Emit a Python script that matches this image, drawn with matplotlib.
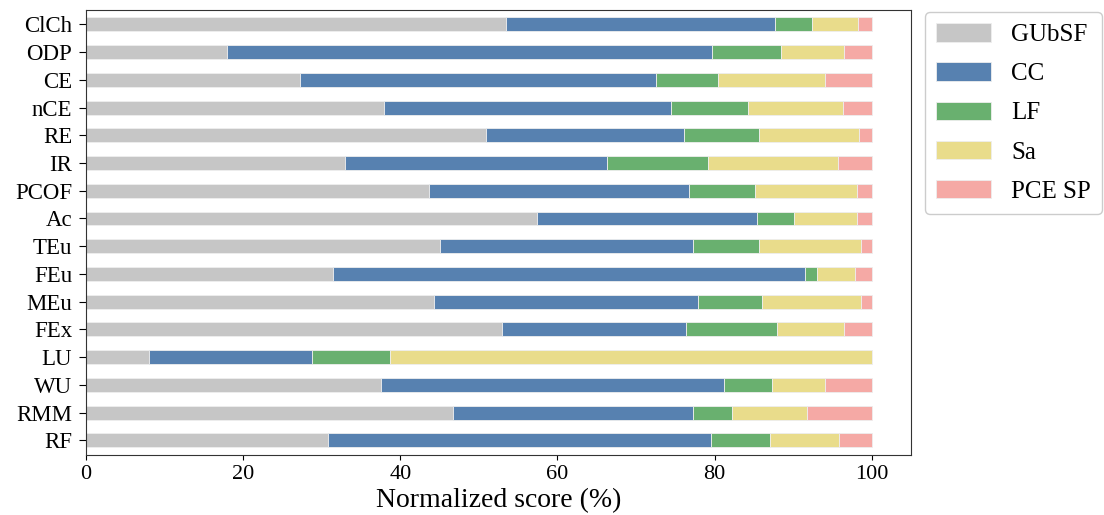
import matplotlib

matplotlib.use("Agg")
import matplotlib.pyplot as plt
import numpy as np

plt.rcParams["font.family"] = ["Liberation Serif", "DejaVu Serif"]

CATEGORIES = ["ClCh", "ODP", "CE", "nCE", "RE", "IR", "PCOF", "Ac",
              "TEu", "FEu", "MEu", "FEx", "LU", "WU", "RMM", "RF"]
SERIES = ["GUbSF", "CC", "LF", "Sa", "PCE SP"]

# Segment widths (% of total).
GUBSF = [53.4, 17.9, 27.2, 37.9, 50.9, 33.0, 43.6, 57.4,
         45.0, 31.4, 44.3, 53.0, 8.0, 37.6, 46.7, 30.8]
CC = [34.3, 61.8, 45.4, 36.6, 25.2, 33.3, 33.1, 28.0,
      32.3, 60.1, 33.6, 23.4, 20.8, 43.6, 30.6, 48.7]
LF = [4.7, 8.7, 7.8, 9.8, 9.5, 12.8, 8.4, 4.7,
      8.3, 1.5, 8.1, 11.5, 9.9, 6.1, 4.9, 7.5]
SA = [5.9, 8.1, 13.6, 12.0, 12.8, 16.6, 13.0, 8.0,
      13.0, 4.9, 12.6, 8.6, 61.3, 6.8, 9.6, 8.8]
PCE_SP = [1.7, 3.5, 6.0, 3.7, 1.6, 4.3, 1.9, 1.9,
          1.4, 2.1, 1.4, 3.5, 0.0, 5.9, 8.2, 4.2]

COLORS = ["#c6c6c6", "#5781b0", "#69b06f", "#e9dc8b", "#f5a9a5"]


def main() -> None:
    fig = plt.figure(figsize=(11.04, 5.15), dpi=100)
    ax = fig.add_axes([86 / 1104, 60 / 515, 825 / 1104, 445 / 515])
    y = np.arange(len(CATEGORIES))
    left = np.zeros(len(CATEGORIES))
    for name, values, color in zip(SERIES, [GUBSF, CC, LF, SA, PCE_SP], COLORS):
        values = np.asarray(values)
        ax.barh(y, values, left=left, height=0.5, color=color, label=name,
                edgecolor="#eeeeee", linewidth=0.6)
        left += values

    ax.set_yticks(y)
    ax.set_yticklabels(CATEGORIES, fontsize=16.5)
    ax.set_ylim(15.53, -0.52)
    ax.set_xlim(0, 105)
    ax.set_xticks([0, 20, 40, 60, 80, 100])
    ax.tick_params(axis="x", labelsize=16)
    ax.tick_params(axis="y", length=5, pad=5)
    ax.set_xlabel("Normalized score (%)", fontsize=20, labelpad=3)
    for spine in ax.spines.values():
        spine.set_color("#333333")

    ax.legend(loc="upper left", bbox_to_anchor=(1.017, 0.9955), fontsize=18,
              handlelength=2.2, handleheight=0.75, labelspacing=0.65,
              handletextpad=0.8, borderpad=0.45, borderaxespad=0.0,
              framealpha=1.0, edgecolor="#cccccc")
    fig.savefig("out.png", dpi=100)
    plt.close(fig)


if __name__ == "__main__":
    main()
